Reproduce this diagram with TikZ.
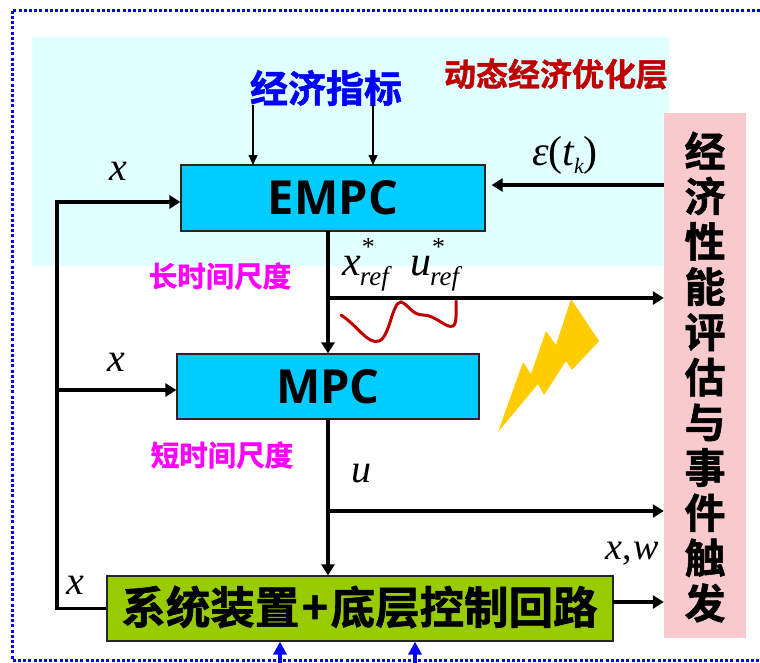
\documentclass[tikz,border=0pt]{standalone}
\usepackage{fontspec}
\usetikzlibrary{arrows.meta}
\setmainfont{Liberation Serif}
\newfontfamily\cjkb[FakeBold=1.3]{Noto Sans CJK SC Bold}
\newfontfamily\latb{Open Sans}
\newcommand{\fs}[1]{\fontsize{#1}{#1}\selectfont}
\newcommand{\refsub}[1]{\fs{42}\itshape #1\rlap{\raisebox{20pt}{\hspace{1pt}\upshape\fs{26}*}}\raisebox{-10pt}{\fs{27}\hspace{-1pt}ref}}
\definecolor{bgcyan}{HTML}{E0FFFF}
\definecolor{boxcyan}{HTML}{00CCFF}
\definecolor{boxgreen}{HTML}{99CC00}
\definecolor{boxpink}{HTML}{F9CACD}
\definecolor{bolt}{HTML}{FFCC00}
\definecolor{darkred}{HTML}{C00000}
\definecolor{magentat}{HTML}{FF00FF}
\tikzset{
  block/.style={draw=black!85,line width=1.2pt,inner sep=0pt},
  lab/.style={inner sep=0pt,anchor=center},
  var/.style={lab,font=\fs{40}\itshape},
  medium/.style={line width=3.2pt,-{Triangle[length=11pt,width=13pt]}},
  thin arrow/.style={line width=1.4pt,-{Triangle[length=10pt,width=9pt]}},
  blue arrow/.style={line width=3.6pt,blue,-{Triangle[length=13pt,width=13pt]}},
}
\begin{document}
\begin{tikzpicture}[x=1pt,y=-1pt]
\useasboundingbox (0,0) rectangle (760,662);
\fill[white] (0,0) rectangle (760,662);
\fill[bgcyan] (32,37) rectangle (669,266);
\draw[blue,line width=3pt,dash pattern=on 3pt off 2.2pt] (760,10) -- (12,10) -- (12,660) -- (760,660);

\node[block,fill=boxcyan,minimum width=304pt,minimum height=66pt] (empc) at (333,198) {\latb\bfseries\fs{47}EMPC};
\node[block,fill=boxcyan,minimum width=302pt,minimum height=65pt] (mpc) at (328,386.5) {\latb\bfseries\fs{47}MPC};
\node[block,fill=boxgreen,minimum width=506pt,minimum height=65pt] (plant) at (360,608.5) {};
\node[lab,font=\cjkb\fs{44.5}] (plantlab) at (359.5,607) {系统装置\hspace{2.5pt}+\hspace{2.5pt}底层控制回路};
\node[fill=boxpink,inner sep=0pt,minimum width=82pt,minimum height=525pt] (eval) at (705,375.5) {};
\node[lab,font=\cjkb\fontsize{41}{45.2}\selectfont,align=center] (evallab) at (705,377) {经\\济\\性\\能\\评\\估\\与\\事\\件\\触\\发};

\node[lab,font=\cjkb\fs{38},text=blue] (eco) at (326,88) {经济指标};
\node[lab,font=\cjkb\fs{32},text=darkred] (layer) at (556,74) {动态经济优化层};
\node[lab,font=\cjkb\fs{28.5},text=magentat] (long) at (220,276) {长时间尺度};
\node[lab,font=\cjkb\fs{28.5},text=magentat] (short) at (222,455) {短时间尺度};

\node[var] (x1) at (118,171) {x};
\node[var] (x2) at (116,362) {x};
\node[var] (x3) at (75,585) {x};
\node[var,font=\fs{38}\itshape] (xw) at (632,554) {x\upshape,\hspace{2pt}\itshape w};
\node[var] (u) at (361,474) {u};
\node[lab,anchor=base west] (xref) at (342,275) {\refsub{x}};
\node[lab,anchor=base west] (uref) at (410,275) {\refsub{u}};
\node[lab] (eps) at (565,155) {\fs{42}\itshape ε\upshape(\itshape t\raisebox{-8pt}{\fs{22}k}\upshape)};

% decoration
\draw[red!75!black,line width=3pt,line cap=round] (341,315) .. controls (358,326) and (368,345) .. (379,341) .. controls (390,337) and (392,302) .. (401,302) .. controls (408,304) and (412,315) .. (423,315) .. controls (436,315) and (446,329) .. (453,326) .. controls (457,324) and (456,312) .. (456,301);
\fill[bolt] (498,432) -- (523,362) -- (531,374) -- (546,331) -- (556,345) -- (571,299) -- (599,341) -- (572,370) -- (566,361) -- (544,395) -- (538,384) -- cycle;

% connectors
\coordinate (econ1) at (253,105);
\coordinate (econ2) at (373,105);
\coordinate (e1) at (253,165);
\coordinate (e2) at (373,165);
\draw[thin arrow] (econ1) -- (e1);
\draw[thin arrow] (econ2) -- (e2);

\coordinate (j1) at (57,608.5);
\coordinate (j2) at (57,390);
\coordinate (j3) at (57,202);
\draw[medium] (plant.west) -- (j1) -- (j3) -- (empc.west |- j3);
\draw[medium] (j2) -- (mpc.west |- j2);

\coordinate (a) at (328,231);
\coordinate (a2) at (328,298);
\coordinate (b) at (328,511);
\draw[medium] (a) -- (mpc.north -| a);
\draw[medium] (a2) -- (eval.west |- a2);
\draw[medium] (mpc.south -| a) -- (plant.north -| a);
\draw[medium] (b) -- (eval.west |- b);
\coordinate (p) at (613,602);
\draw[medium] (p) -- (eval.west |- p);
\coordinate (q) at (664,185);
\draw[medium,shorten >=6pt] (q) -- (empc.east |- q);

\coordinate (b1) at (280,665);
\coordinate (b2) at (415,665);
\draw[blue arrow] (b1) -- (plant.south -| b1);
\draw[blue arrow] (b2) -- (plant.south -| b2);
\end{tikzpicture}
\end{document}
